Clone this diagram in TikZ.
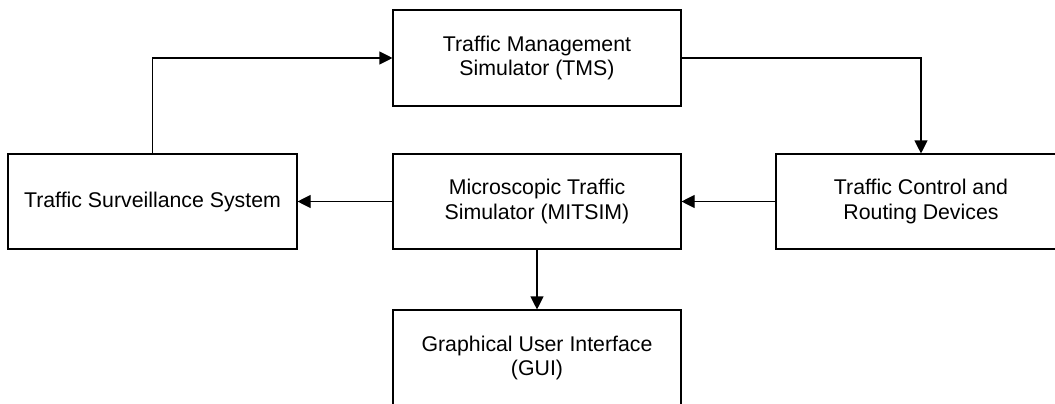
\documentclass[tikz,border=0pt]{standalone}
\usepackage{fontspec}
\setmainfont{Liberation Sans}
\usetikzlibrary{arrows.meta}
\begin{document}
\begin{tikzpicture}[x=1pt,y=-1pt,
  blk/.style={draw=black,line width=1.1pt,fill=white,inner sep=0pt,align=center,
    font=\fontsize{21.3}{24.5}\selectfont},
  arr/.style={line width=1.1pt,-{Triangle[length=13pt,width=13pt]}}]
\fill[white] (0,0) rectangle (1055,404);
\useasboundingbox (0,0) rectangle (1055,404);
\node[blk,minimum width=288pt,minimum height=96pt] (tms) at (537,58) {Traffic Management\\Simulator (TMS)};
\node[blk,minimum width=288pt,minimum height=95pt] (mit) at (537,201.5) {Microscopic Traffic\\Simulator (MITSIM)};
\node[blk,minimum width=289pt,minimum height=95pt] (surv) at (152.5,201.5) {Traffic Surveillance System};
\node[blk,minimum width=290pt,minimum height=95pt] (tcr) at (921,201.5) {Traffic Control and\\Routing Devices};
\node[blk,minimum width=288pt,minimum height=96pt] (gui) at (537,358) {Graphical User Interface\\(GUI)};
\draw[arr] (surv.north) |- (tms.west);
\draw[arr] (tms.east) -| (tcr.north);
\draw[arr] (tcr.west) -- (mit.east);
\draw[arr] (mit.west) -- (surv.east);
\draw[arr] (mit.south) -- (gui.north);
\end{tikzpicture}
\end{document}
